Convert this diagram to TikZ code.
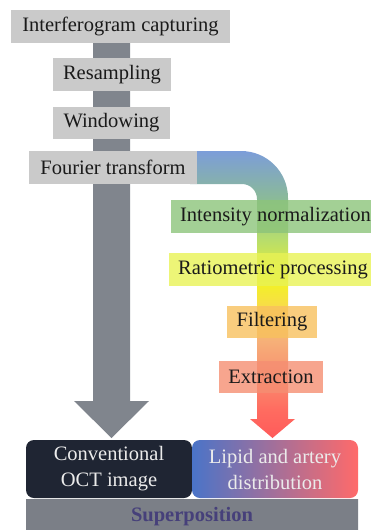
\documentclass[tikz,border=0pt]{standalone}
\usepackage{fontspec}
\setmainfont{Liberation Serif}
\definecolor{pA}{HTML}{FF5A5A}
\definecolor{pB}{HTML}{FF6C60}
\definecolor{pC}{HTML}{F89070}
\definecolor{pD}{HTML}{F6B078}
\definecolor{pE}{HTML}{F8DC48}
\definecolor{pF}{HTML}{F2F226}
\definecolor{pG}{HTML}{B4DC70}
\definecolor{pH}{HTML}{8BBB96}
\definecolor{pI}{HTML}{7C9DD9}
\definecolor{boxgray}{HTML}{CACACA}
\definecolor{arrowgray}{HTML}{80858D}
\definecolor{boxgreen}{HTML}{8CC47A}
\definecolor{boxyellow}{HTML}{E8F255}
\definecolor{boxorange}{HTML}{F8C05E}
\definecolor{boxsalmon}{HTML}{F58E72}
\definecolor{navybox}{HTML}{1F2533}
\definecolor{lipidblue}{HTML}{4A74C8}
\definecolor{lipidred}{HTML}{FF6A6A}
\definecolor{supgray}{HTML}{7B7F87}
\definecolor{suptext}{HTML}{46407A}
\definecolor{txt}{HTML}{1A1A1A}
\pgfdeclareverticalshading{pipeshade}{100bp}{color(0bp)=(pA); color(25bp)=(pA); color(30bp)=(pB); color(36bp)=(pC); color(42bp)=(pD); color(48bp)=(pE); color(52bp)=(pF); color(60bp)=(pG); color(66.5bp)=(pH); color(75bp)=(pI); color(100bp)=(pI)}
\tikzset{
  lbl/.style={font=\fontsize{20.5}{26}\selectfont, text=txt, inner sep=0pt, outer sep=0pt, anchor=center},
  graybox/.style={lbl, fill=boxgray, minimum height=33pt},
  colbox/.style={lbl, fill opacity=0.8, text opacity=1, minimum height=33pt},
  darkbox/.style={lbl, text=white!92!black, align=center, rounded corners=8pt, minimum width=166pt, minimum height=58pt}
}
\begin{document}
\begin{tikzpicture}[x=1pt,y=-1pt]
\useasboundingbox (0,0) rectangle (371,530);
\clip (0,0) rectangle (371,530);
% gray block arrow
\fill[arrowgray] (93,43) -- (130,43) -- (130,401) -- (149,401) -- (111.5,438) -- (74,401) -- (93,401) -- cycle;
% gradient pipe
\shade[shading=pipeshade] (190,151) -- (241,151) .. controls (267,151) and (288,172) .. (288,198)
  -- (288,419) -- (295,419) -- (272.5,438) -- (250,419) -- (257,419) -- (257,199)
  .. controls (257,190.7) and (250.3,184) .. (242,184) -- (190,184) -- cycle;
% gray step boxes
\node[graybox, minimum width=219pt] (cap) at (120.5,26.5) {Interferogram capturing};
\node[graybox, minimum width=118pt] (res) at (112,74.5) {Resampling};
\node[graybox, minimum width=117pt, minimum height=32pt] (win) at (111.5,123) {Windowing};
\node[graybox, minimum width=168pt] (fft) at (113,167.5) {Fourier transform};
% coloured step boxes
\node[colbox, fill=boxgreen, minimum width=209pt] (norm) at (275.5,216.5) {Intensity normalization};
\node[colbox, fill=boxyellow, minimum width=208pt] (ratio) at (273,269.5) {Ratiometric processing};
\node[colbox, fill=boxorange, minimum width=90pt, minimum height=32pt] (filt) at (272,322) {Filtering};
\node[colbox, fill=boxsalmon, minimum width=104pt, minimum height=32pt] (extr) at (271,377) {Extraction};
% bottom boxes
\node[darkbox, fill=navybox] (oct) at (109,469) {Conventional\\OCT image};
\shade[left color=lipidblue, right color=lipidred, rounded corners=8pt] (192,440) rectangle (358,498);
\node[darkbox, fill=none] (lipid) at (275,469) {Lipid and artery\\distribution};
% superposition bar
\shade[left color=supgray, middle color=white!94!black, right color=supgray] (26,499) rectangle (358,532);
\node[lbl, text=suptext, font=\fontsize{20.5}{26}\selectfont\bfseries] (sup) at (192,517) {Superposition};
\end{tikzpicture}
\end{document}
